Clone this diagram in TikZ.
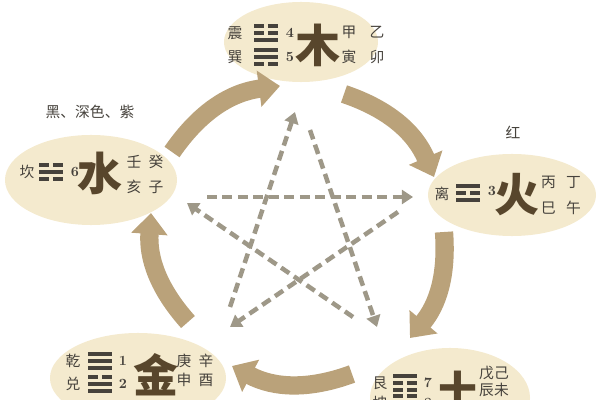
\documentclass[tikz,border=0pt]{standalone}
\usepackage{fontspec}
\usepackage{tikz}
\usetikzlibrary{shapes.geometric,arrows.meta,positioning}
\newfontfamily\cjk{Noto Sans CJK SC}
\definecolor{cream}{RGB}{244,234,206}
\definecolor{tanring}{RGB}{186,162,122}
\definecolor{stargray}{RGB}{158,152,136}
\definecolor{ink}{RGB}{88,70,44}
\definecolor{note}{RGB}{70,66,60}
% one line of a trigram: 1 = solid, 0 = broken
\newcommand\yaoline[1]{\ifnum#1=1 \rule{16.5pt}{2.6pt}\else\rule{6.9pt}{2.6pt}\hspace{2.7pt}\rule{6.9pt}{2.6pt}\fi}
\newcommand\guaxiang[3]{\vbox{\offinterlineskip\hbox{\yaoline{#1}}\vskip2.3pt\hbox{\yaoline{#2}}\vskip2.3pt\hbox{\yaoline{#3}}}}

\begin{document}
\begin{tikzpicture}[x=0.025cm,y=-0.025cm,
   element/.style={ellipse, fill=cream, inner sep=0pt},
   big/.style={font=\cjk\bfseries\fontsize{32}{32}\selectfont, text=ink, inner sep=0pt},
   small/.style={font=\cjk\fontsize{10.5}{10.5}\selectfont, text=note, inner sep=0pt},
   num/.style={font=\bfseries\fontsize{10}{10}\selectfont, text=note, inner sep=0pt},
   gua/.style={text=note, inner sep=0pt},
   sheng/.style={line width=13pt, draw=tanring, -{Triangle[width=25pt,length=15pt]}},
   ke/.style={line width=3.2pt, draw=stargray, dash pattern=on 7pt off 4pt, -{Triangle[width=10pt,length=8pt]}}]
   \useasboundingbox (0,0) rectangle (600,400);
   % the five elements
   \node[element, minimum width=3.85cm, minimum height=2cm] (mu) at (301,42) {};
   \node[element, minimum width=4.3cm, minimum height=2.25cm] (shui) at (91,180) {};
   \node[element, minimum width=4.2cm, minimum height=2.05cm] (huo) at (512,195) {};
   \node[element, minimum width=4.4cm, minimum height=2.25cm] (jin) at (138,378) {};
   \node[element, minimum width=4cm, minimum height=2.5cm] (tu) at (450,398) {};

   \node[big] (muz) at (318,45) {木};
   \node[small] (zhen) at (235,33) {震};
   \node[gua] (zhengua) at (266,33) {\guaxiang001};
   \node[num] (zhennum) at (290,33) {4};
   \node[small] (xun) at (235,57) {巽};
   \node[gua] (xungua) at (266,57) {\guaxiang110};
   \node[num] (xunnum) at (290,57) {5};
   \node[small] (mugan) at (363,32) {甲\hspace{0.9em}乙};
   \node[small] (muzhi) at (363,57) {寅\hspace{0.9em}卯};

   \node[big] (shuiz) at (100,173) {水};
   \node[small] (kan) at (27,172) {坎};
   \node[gua] (kangua) at (51,172) {\guaxiang010};
   \node[num] (kannum) at (75,172) {6};
   \node[small] (shuigan) at (145,162) {壬\hspace{0.5em}癸};
   \node[small] (shuizhi) at (145,187) {亥\hspace{0.5em}子};
   \node[small] (shuise) at (90,112) {黑、深色、紫};

   \node[big] (huoz) at (517,195) {火};
   \node[small] (li) at (442,194) {离};
   \node[gua] (ligua) at (468,193) {\guaxiang101};
   \node[num] (linum) at (492,191) {3};
   \node[small] (huogan) at (561,182) {丙\hspace{0.7em}丁};
   \node[small] (huozhi) at (561,208) {巳\hspace{0.7em}午};
   \node[small] (huose) at (513,132) {红};

   \node[big] (jinz) at (156,375) {金};
   \node[small] (qian) at (73,361) {乾};
   \node[gua] (qiangua) at (100,361) {\guaxiang111};
   \node[num] (qiannum) at (123,361) {1};
   \node[small] (dui) at (73,384) {兑};
   \node[gua] (duigua) at (100,384) {\guaxiang011};
   \node[num] (duinum) at (123,384) {2};
   \node[small] (jingan) at (195,361) {庚\hspace{0.5em}辛};
   \node[small] (jinzhi) at (195,380) {申\hspace{0.5em}酉};

   \node[big] (tuz) at (458,392) {土};
   \node[small] (gen) at (380,383) {艮};
   \node[gua] (gengua) at (405,383) {\guaxiang100};
   \node[num] (gennum) at (428,383) {7};
   \node[small] (kun) at (380,403) {坤};
   \node[gua] (kungua) at (405,403) {\guaxiang000};
   \node[num] (kunnum) at (428,403) {8};
   \node[small] (tugan) at (494,373) {戊己};
   \node[small] (tuzhi) at (494,390) {辰未};

   % sheng cycle
   \coordinate (shui-s) at (172,152); \coordinate (mu-t) at (280,86);
   \coordinate (mu-s) at (344,94);    \coordinate (huo-t) at (434,177);
   \coordinate (huo-s) at (444,232);  \coordinate (tu-t) at (410,338);
   \coordinate (tu-s) at (352,374);   \coordinate (jin-t) at (232,366);
   \coordinate (jin-s) at (188,322);  \coordinate (shui-t) at (151,213);
   \draw[sheng] (shui-s) to[bend left=24] (mu-t);
   \draw[sheng] (mu-s) to[bend left=24] (huo-t);
   \draw[sheng] (huo-s) to[bend left=22] (tu-t);
   \draw[sheng] (tu-s) to[bend left=24] (jin-t);
   \draw[sheng] (jin-s) to[bend left=23] (shui-t);

   % ke cycle (star)
   \coordinate (jin-k) at (230,307);  \coordinate (mu-k) at (295,112);
   \coordinate (mu-k2) at (310,130);  \coordinate (tu-k) at (377,327);
   \coordinate (tu-k2) at (353,317);  \coordinate (shui-k) at (187,203);
   \coordinate (shui-k2) at (207,197); \coordinate (huo-k) at (413,197);
   \coordinate (huo-k2) at (398,212); \coordinate (jin-k2) at (230,327);
   \draw[ke] (jin-k) -- (mu-k);
   \draw[ke] (mu-k2) -- (tu-k);
   \draw[ke] (tu-k2) -- (shui-k);
   \draw[ke] (shui-k2) -- (huo-k);
   \draw[ke] (huo-k2) -- (jin-k2);
\end{tikzpicture}
\end{document}
